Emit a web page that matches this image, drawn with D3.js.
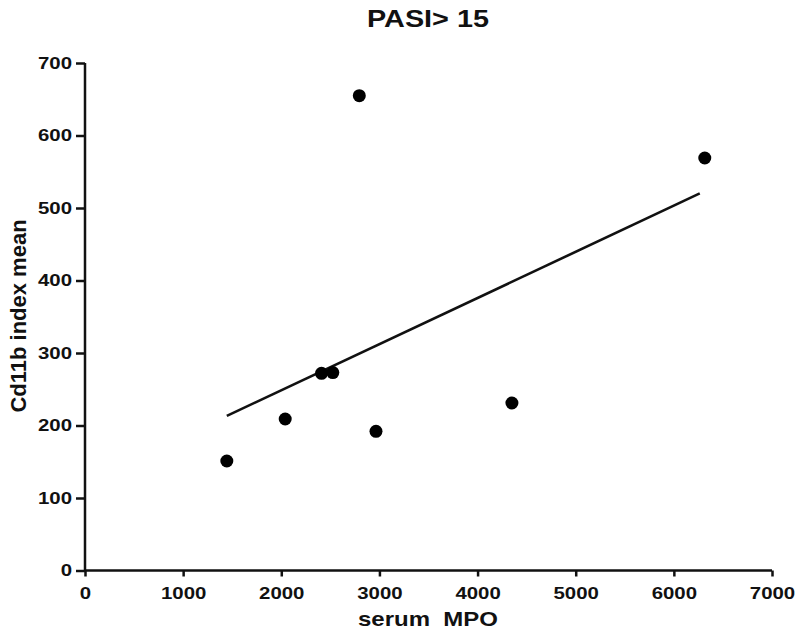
<!DOCTYPE html>
<html>
<head>
<meta charset="utf-8">
<script src="https://cdn.jsdelivr.net/npm/d3@7"></script>
<style>
  html, body { margin: 0; padding: 0; background: #fff; }
  svg text { font-family: "Liberation Sans", Arial, sans-serif; font-weight: bold; fill: #111; white-space: pre; }
</style>
</head>
<body>
<svg id="chart" width="800" height="637"></svg>
<script>
// ---- data ----
const serumMPO = [1445, 2040, 2410, 2525, 2795, 2965, 4350, 6315];
const cd11bMean = [151, 209, 272, 273, 655, 192, 231, 569];
const xTicks = [0, 1000, 2000, 3000, 4000, 5000, 6000, 7000];
const yTicks = [0, 100, 200, 300, 400, 500, 600, 700];
const title = "PASI> 15";
const xLabel = "serum  MPO";
const yLabel = "Cd11b index mean";

const svg = d3.select("#chart");
const x = d3.scaleLinear().domain([0, 7000]).range([85, 772]);
const y = d3.scaleLinear().domain([0, 700]).range([570.5, 63]);
const S = 1.2; // horizontal stretch of the original text

// x axis
const gx = svg.append("g").attr("transform", `translate(0,${y(0)})`)
  .call(d3.axisBottom(x).tickValues(xTicks).tickSize(6).tickPadding(10).tickSizeOuter(0).tickFormat(d3.format("d")));
// y axis
const gy = svg.append("g").attr("transform", `translate(${x(0)},0)`)
  .call(d3.axisLeft(y).tickValues(yTicks).tickSize(9).tickSizeOuter(0).tickFormat(d3.format("d")));

[gx, gy].forEach(g => {
  g.select(".domain").attr("stroke", "#111").attr("stroke-width", 2.5);
  g.selectAll(".tick line").attr("stroke", "#111").attr("stroke-width", 2.5);
  g.selectAll(".tick text").attr("font-size", 17).attr("fill", "#111")
    .attr("transform", `scale(${S},1)`);
});
gy.selectAll(".tick text").attr("x", -13 / S);
gx.select(".domain").attr("d", `M${x(0)},0H${x(7000)}`);
gy.select(".domain").attr("d", `M0,${y(0)}V${y(700)}`);

// regression line (least squares from the data)
const n = serumMPO.length;
const mx = d3.mean(serumMPO), my = d3.mean(cd11bMean);
let sxy = 0, sxx = 0;
for (let i = 0; i < n; i++) {
  sxy += (serumMPO[i] - mx) * (cd11bMean[i] - my);
  sxx += (serumMPO[i] - mx) ** 2;
}
const slope = sxy / sxx, icpt = my - slope * mx;
const [x0, x1] = d3.extent(serumMPO);
svg.append("line")
  .attr("x1", x(x0)).attr("y1", y(icpt + slope * x0))
  .attr("x2", x(x1) - 5).attr("y2", y(icpt + slope * (x1 - 5 / (x(1) - x(0)))))
  .attr("stroke", "#111").attr("stroke-width", 2.6);

// points
svg.append("g").selectAll("circle")
  .data(serumMPO.map((v, i) => [v, cd11bMean[i]]))
  .join("circle")
  .attr("cx", d => x(d[0])).attr("cy", d => y(d[1]))
  .attr("r", 6.5).attr("fill", "#000");

// title
svg.append("text").attr("transform", `translate(428,27) scale(${S},1)`)
  .attr("text-anchor", "middle").attr("font-size", 24).text(title);
// x label
svg.append("text").attr("transform", `translate(428,626) scale(${S},1)`)
  .attr("text-anchor", "middle").attr("font-size", 20).text(xLabel);
// y label
svg.append("text").attr("transform", `translate(26,316) rotate(-90)`)
  .attr("text-anchor", "middle").attr("font-size", 22).text(yLabel);
</script>
</body>
</html>
